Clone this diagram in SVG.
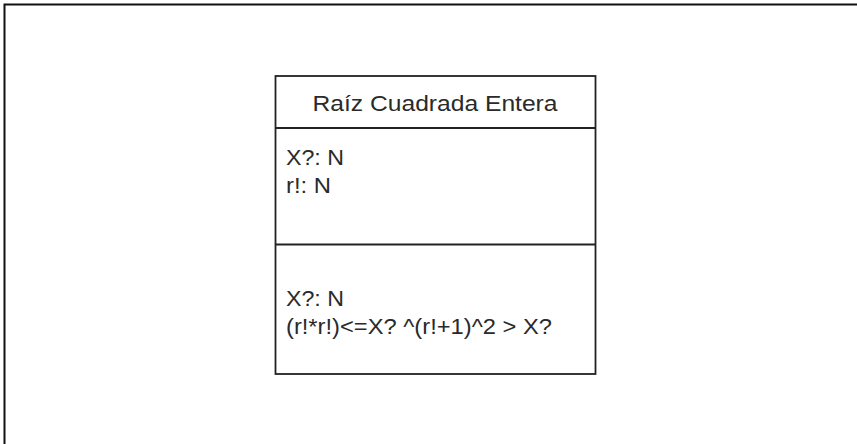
<svg xmlns="http://www.w3.org/2000/svg" width="857" height="444" viewBox="0 0 857 444">
<style>
.frame{fill:none;stroke:#111;stroke-width:2}
.box{fill:#fff;stroke:#222;stroke-width:1.8}
.sep{stroke:#222;stroke-width:1.8}
.t{font-family:"Liberation Sans",Arial,sans-serif;font-size:22px;fill:#2a2a2a}
</style>
<rect width="857" height="444" fill="#fff"/>
<rect class="frame" x="4.5" y="4.5" width="880" height="470"/>
<g id="connectors"></g>
<g id="node-raiz">
<rect class="box" x="275.5" y="76" width="320" height="298"/>
<line class="sep" x1="275.5" y1="128" x2="595.5" y2="128"/>
<line class="sep" x1="275.5" y1="244.5" x2="595.5" y2="244.5"/>
<text class="t" x="435" y="111" text-anchor="middle" textLength="245" lengthAdjust="spacingAndGlyphs">Raíz Cuadrada Entera</text>
<text class="t" x="286" y="165" textLength="58" lengthAdjust="spacingAndGlyphs">X?: N</text>
<text class="t" x="286" y="193" textLength="45" lengthAdjust="spacingAndGlyphs">r!: N</text>
<text class="t" x="286" y="306" textLength="58" lengthAdjust="spacingAndGlyphs">X?: N</text>
<text class="t" x="286" y="334" textLength="266" lengthAdjust="spacingAndGlyphs">(r!*r!)&lt;=X? ^(r!+1)^2 &gt; X?</text>
</g>
</svg>
